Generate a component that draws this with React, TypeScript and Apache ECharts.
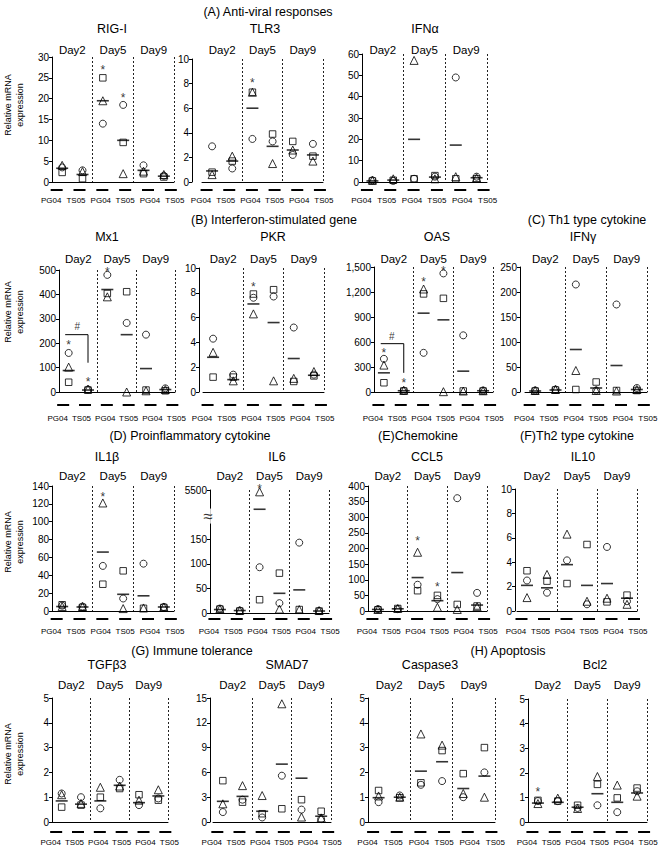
import React, { useEffect, useRef } from 'react';
import * as echarts from 'echarts';

const FONT = '"Liberation Sans", Arial, Helvetica, sans-serif';

const xCategories = ['PG04', 'TS05', 'PG04', 'TS05', 'PG04', 'TS05'];
const dayLabels = ['Day2', 'Day5', 'Day9'];
const yAxisTitle = 'Relative mRNA\nexpression';

const sectionTitles = [
  '(A) Anti-viral responses',
  '(B) Interferon-stimulated gene',
  '(C) Th1 type cytokine',
  '(D) Proinflammatory cytokine',
  '(E)Chemokine',
  '(F)Th2 type cytokine',
  '(G) Immune tolerance',
  '(H) Apoptosis',
];

// ---------- data (order: Day2 PG04, Day2 TS05, Day5 PG04, Day5 TS05, Day9 PG04, Day9 TS05)
const rigICircle = [3.5, 2.8, 14, 18.5, 4, 1.5];
const rigISquare = [2.3, 0.8, 25, 9.5, 2, 1.2];
const rigITriangle = [4, 2.5, 19.5, 2, 2.6, 1.8];
const rigIMean = [3.3, 1.8, 19.5, 10, 2.8, 1.4];
const rigIStars = [[2, 27.5], [3, 21]];

const tlr3Circle = [2.9, 1.1, 3.5, 3.3, 2.2, 3.1];
const tlr3Square = [0.8, 1.7, 7.3, 3.9, 3.3, 2.1];
const tlr3Triangle = [0.6, 2.1, 7.3, 1.5, 2.6, 1.7];
const tlr3Mean = [0.9, 1.7, 6.0, 2.9, 2.6, 2.2];
const tlr3Stars = [[2, 8.3]];

const ifnaCircle = [0.8, 0.5, 1.5, 2.5, 49, 2.5];
const ifnaSquare = [0.5, 0.8, 1.5, 3, 1.5, 1.5];
const ifnaTriangle = [0.8, 1.5, 57, 1.5, 2.5, 2];
const ifnaMean = [0.5, 0.9, 20, 2.3, 17.3, 2];

const mx1Circle = [160, 10, 480, 283, 235, 15];
const mx1Square = [40, 8, 404, 411, 8, 5];
const mx1Triangle = [102, 12, 390, 0, 5, 10];
const mx1Mean = [88, 8, 420, 235, 96, 10];
const mx1Stars = [[0, 204], [1, 54], [2, 505]];
const mx1Bracket = [[0.16, 235], [0.75, 235], [0.75, 120]];
const mx1Hash = [[0.47, 270]];

const pkrCircle = [4.3, 1.4, 7.6, 7.7, 5.2, 1.4];
const pkrSquare = [1.2, 1.2, 7.9, 8.25, 0.85, 1.3];
const pkrTriangle = [3.2, 0.9, 6.3, 0.9, 1.1, 1.65];
const pkrMean = [2.8, 1.0, 7.1, 5.6, 2.7, 1.35];
const pkrStars = [[2, 8.7]];

const oasCircle = [398, 15, 470, 1423, 680, 18];
const oasSquare = [111, 12, 1177, 1124, 12, 12];
const oasTriangle = [323, 20, 1236, 4, 12, 15];
const oasMean = [230, 15, 946, 866, 250, 15];
const oasStars = [[0, 500], [1, 150], [2, 1353], [3, 1485]];
const oasBracket = [[0.17, 580], [0.75, 580], [0.75, 230]];
const oasHash = [[0.45, 668]];

const ifngCircle = [3, 5, 215, 3, 175, 8];
const ifngSquare = [2, 4, 5, 20, 3, 3];
const ifngTriangle = [3, 5, 43, 3, 2, 5];
const ifngMean = [2, 4, 85, 8, 53, 5];

const il1bCircle = [6, 5, 50.5, 14, 53, 4.5];
const il1bSquare = [7, 4, 30, 45, 3, 4];
const il1bTriangle = [5, 5, 121, 2.7, 3.4, 4.5];
const il1bMean = [5, 4.5, 66, 18.7, 17, 4.5];
const il1bStars = [[2, 131]];

const il6Circle = [9, 5, 93, 20, 143, 4];
const il6Square = [8, 4, 27, 81, 7, 4];
const il6Triangle = [8, 5, 5100, 8, 7, 5];
const il6Mean = [7, 5, 1350, 40, 47, 4];
const il6Stars = [[2, 6300]];
const il6BreakLow = 200;
const il6TopLabel = 5500;

const ccl5Circle = [6, 6, 84, 38, 361, 58];
const ccl5Square = [4, 8, 65, 50, 21, 16];
const ccl5Triangle = [5, 8, 188, 12, 5, 14];
const ccl5Mean = [5, 7, 107, 33, 123, 19];
const ccl5Stars = [[2, 234], [3, 86]];

const il10Circle = [2.5, 1.5, 4.15, 0.55, 5.25, 0.8];
const il10Square = [3.3, 2.45, 2.25, 5.45, 0.75, 1.3];
const il10Triangle = [1.1, 3.0, 6.3, 0.8, 1.05, 0.55];
const il10Mean = [2.1, 1.9, 3.8, 2.1, 2.25, 1.05];

const tgfb3Circle = [1.15, 1.0, 0.55, 1.7, 0.68, 0.95];
const tgfb3Square = [0.6, 0.68, 1.0, 1.35, 1.1, 0.88];
const tgfb3Triangle = [1.1, 0.75, 1.4, 1.45, 0.88, 1.3];
const tgfb3Mean = [0.85, 0.72, 0.85, 1.48, 0.78, 1.05];

const smad7Circle = [1.2, 2.7, 0.55, 5.6, 1.5, 0.35];
const smad7Square = [5.0, 2.4, 1.0, 1.6, 2.7, 1.3];
const smad7Triangle = [2.2, 4.4, 3.2, 14.3, 0.6, 0.5];
const smad7Mean = [2.5, 3.1, 1.3, 7.0, 5.3, 0.7];

const casp3Circle = [0.8, 1.07, 1.5, 1.65, 1.0, 2.0];
const casp3Square = [1.27, 0.98, 1.58, 2.88, 1.95, 3.0];
const casp3Triangle = [1.05, 1.0, 3.55, 3.1, 1.15, 1.0];
const casp3Mean = [0.98, 1.0, 2.05, 2.43, 1.35, 1.85];

const bcl2Circle = [0.85, 0.85, 0.57, 0.68, 0.4, 1.25];
const bcl2Square = [0.88, 0.85, 0.68, 1.53, 0.98, 1.38];
const bcl2Triangle = [0.75, 0.97, 0.55, 1.85, 1.5, 1.05];
const bcl2Mean = [0.77, 0.8, 0.6, 1.15, 0.8, 1.18];
const bcl2Stars = [[0, 1.33]];

// ---------- layout (pixels)
const rowLayout = [
  { titleY: 29, dayY: 50, dashY: 190, labelY: 200, nameY: 105 },
  { titleY: 237, dayY: 259, dashY: 405, labelY: 418, nameY: 312 },
  { titleY: 457, dayY: 476, dashY: 619, labelY: 631, nameY: 542 },
  { titleY: 665, dayY: 685, dashY: 832, labelY: 842, nameY: 754 },
];
const sectionPos = [
  [268, 12], [274, 220], [587, 220], [190, 436], [418, 436], [577, 436], [192, 651], [508, 651],
];
// horizontal spreading of the under-axis dashes and names (px)
const dashShift = [-5.5, -3, -0.5, 2, 4.5, 7];
const nameShift = [-11, -6.5, -2, 2, 6.5, 11];

type Panel = {
  name: string; row: number; titleX: number;
  left: number; width: number; top: number; bottom: number; yOffset: number;
  yMax: number; yInterval: number;
  circle: number[]; square: number[]; triangle: number[]; mean: number[];
  stars?: number[][]; bracket?: number[][]; hash?: number[][]; broken?: boolean;
};

const panels: Panel[] = [
  { name: 'RIG-I', row: 0, titleX: 112, left: 52, width: 122, top: 57, bottom: 182, yOffset: 0, yMax: 30, yInterval: 5,
    circle: rigICircle, square: rigISquare, triangle: rigITriangle, mean: rigIMean, stars: rigIStars },
  { name: 'TLR3', row: 0, titleX: 265, left: 202, width: 121, top: 59, bottom: 182, yOffset: 10, yMax: 10, yInterval: 2,
    circle: tlr3Circle, square: tlr3Square, triangle: tlr3Triangle, mean: tlr3Mean, stars: tlr3Stars },
  { name: 'IFNα', row: 0, titleX: 425, left: 362, width: 125, top: 54, bottom: 182, yOffset: 0, yMax: 60, yInterval: 10,
    circle: ifnaCircle, square: ifnaSquare, triangle: ifnaTriangle, mean: ifnaMean },
  { name: 'Mx1', row: 1, titleX: 107, left: 59, width: 116, top: 270, bottom: 392, yOffset: 0, yMax: 500, yInterval: 100,
    circle: mx1Circle, square: mx1Square, triangle: mx1Triangle, mean: mx1Mean, stars: mx1Stars, bracket: mx1Bracket, hash: mx1Hash },
  { name: 'PKR', row: 1, titleX: 273, left: 203, width: 121, top: 268, bottom: 392, yOffset: 4, yMax: 10, yInterval: 2,
    circle: pkrCircle, square: pkrSquare, triangle: pkrTriangle, mean: pkrMean, stars: pkrStars },
  { name: 'OAS', row: 1, titleX: 437, left: 374, width: 119, top: 267, bottom: 392, yOffset: 0, yMax: 1500, yInterval: 300,
    circle: oasCircle, square: oasSquare, triangle: oasTriangle, mean: oasMean, stars: oasStars, bracket: oasBracket, hash: oasHash },
  { name: 'IFNγ', row: 1, titleX: 583, left: 525, width: 122, top: 267, bottom: 392, yOffset: 5, yMax: 250, yInterval: 50,
    circle: ifngCircle, square: ifngSquare, triangle: ifngTriangle, mean: ifngMean },
  { name: 'IL1β', row: 2, titleX: 107, left: 52, width: 122, top: 486, bottom: 611, yOffset: 0, yMax: 140, yInterval: 20,
    circle: il1bCircle, square: il1bSquare, triangle: il1bTriangle, mean: il1bMean, stars: il1bStars },
  { name: 'IL6', row: 2, titleX: 277, left: 210, width: 119, top: 490, bottom: 613, yOffset: 0, yMax: 250, yInterval: 50,
    circle: il6Circle, square: il6Square, triangle: il6Triangle, mean: il6Mean, stars: il6Stars, broken: true },
  { name: 'CCL5', row: 2, titleX: 427, left: 368, width: 119, top: 486, bottom: 611, yOffset: 0, yMax: 400, yInterval: 50,
    circle: ccl5Circle, square: ccl5Square, triangle: ccl5Triangle, mean: ccl5Mean, stars: ccl5Stars },
  { name: 'IL10', row: 2, titleX: 583, left: 517, width: 120, top: 489, bottom: 611, yOffset: 2, yMax: 10, yInterval: 2,
    circle: il10Circle, square: il10Square, triangle: il10Triangle, mean: il10Mean },
  { name: 'TGFβ3', row: 3, titleX: 107, left: 52, width: 116, top: 698, bottom: 822, yOffset: 0, yMax: 5, yInterval: 1,
    circle: tgfb3Circle, square: tgfb3Square, triangle: tgfb3Triangle, mean: tgfb3Mean },
  { name: 'SMAD7', row: 3, titleX: 287, left: 213, width: 118, top: 698, bottom: 822, yOffset: 3, yMax: 15, yInterval: 3,
    circle: smad7Circle, square: smad7Square, triangle: smad7Triangle, mean: smad7Mean },
  { name: 'Caspase3', row: 3, titleX: 430, left: 368, width: 127, top: 698, bottom: 822, yOffset: 0, yMax: 5, yInterval: 1,
    circle: casp3Circle, square: casp3Square, triangle: casp3Triangle, mean: casp3Mean },
  { name: 'Bcl2', row: 3, titleX: 595, left: 528, width: 119, top: 699, bottom: 822, yOffset: 0, yMax: 5, yInterval: 1,
    circle: bcl2Circle, square: bcl2Square, triangle: bcl2Triangle, mean: bcl2Mean, stars: bcl2Stars },
];

// axis break for IL6: values above il6BreakLow are compressed so il6TopLabel sits at 250
const il6Display = (v: number) =>
  v <= il6BreakLow ? v : il6BreakLow + ((v - il6BreakLow) * 50) / (il6TopLabel - il6BreakLow);

function buildRich() {
  const dashRich: any = {};
  const nameRich: any = {};
  dashShift.forEach((s, k) => {
    dashRich['d' + k] = { width: 12, height: 2, lineHeight: 2, backgroundColor: '#000' };
    dashRich['s' + k] = { width: Math.abs(2 * s), height: 2, lineHeight: 2 };
  });
  nameShift.forEach((s, k) => {
    nameRich['n' + k] = {
      fontSize: 8, color: '#000', fontFamily: FONT,
      padding: s < 0 ? [0, -2 * s, 0, 0] : [0, 0, 0, 2 * s],
    };
  });
  return { dashRich, nameRich };
}

function buildOption() {
  const grids: any[] = [];
  const xAxes: any[] = [];
  const yAxes: any[] = [];
  const series: any[] = [];
  const elements: any[] = [];
  const { dashRich, nameRich } = buildRich();

  panels.forEach((p, i) => {
    const rl = rowLayout[p.row];
    const disp = p.broken ? il6Display : (v: number) => v;
    grids.push({ left: p.left, top: p.top, width: p.width, height: p.bottom - p.top, containLabel: false, outerBoundsMode: 'none' });
    xAxes.push({
      type: 'category', gridIndex: i, data: xCategories, position: 'bottom',
      axisLine: { show: true, onZero: true, lineStyle: { color: '#000', width: 1 } },
      axisTick: { show: false },
      axisLabel: {
        interval: 0, margin: rl.dashY - p.bottom - 1,
        formatter: (_v: string, k: number) => (dashShift[k] < 0 ? `{d${k}|}{s${k}|}` : `{s${k}|}{d${k}|}`),
        rich: dashRich,
      },
      splitLine: { show: false },
    });
    xAxes.push({
      type: 'category', gridIndex: i, data: xCategories, position: 'bottom',
      axisLine: { show: false }, axisTick: { show: false }, splitLine: { show: false },
      axisLabel: {
        interval: 0, margin: rl.labelY - p.bottom - 4, fontSize: 8, color: '#000', fontFamily: FONT,
        formatter: (v: string, k: number) => `{n${k}|${v}}`,
        rich: nameRich,
      },
    });
    xAxes.push({
      type: 'value', gridIndex: i, min: 0, max: 3, interval: 1, position: 'top',
      axisLine: { show: false }, axisTick: { show: false }, axisLabel: { show: false },
      splitLine: { show: true, lineStyle: { color: ['rgba(0,0,0,0)', '#222', '#222', '#222'], type: [2, 2], width: 1 } },
    });
    xAxes.push({
      type: 'category', gridIndex: i, data: dayLabels, position: 'top',
      axisLine: { show: false }, axisTick: { show: false }, splitLine: { show: false },
      axisLabel: { interval: 0, margin: p.top - rl.dayY - 5.5, fontSize: 11.5, lineHeight: 11, color: '#000', fontFamily: FONT },
    });
    yAxes.push({
      type: 'value', gridIndex: i, min: 0, max: p.yMax, interval: p.yInterval, offset: p.yOffset,
      axisLine: { show: true, onZero: false, lineStyle: { color: '#000', width: 1 } },
      axisTick: { show: true, length: 3, lineStyle: { color: '#000' } },
      splitLine: { show: false },
      axisLabel: {
        fontSize: 10, color: '#000', fontFamily: FONT, margin: 3,
        formatter: (v: number) => {
          if (p.broken) {
            if (v === 250) return String(il6TopLabel);
            if (v === 200) return '';
          }
          return v >= 1000 ? v.toLocaleString('en-US') : String(v);
        },
      },
    });

    const cat = 4 * i;
    const val = 4 * i + 2;
    const pts = (arr: number[]) => arr.map((v, k) => [k, disp(v)]);
    const hollow = { color: 'rgba(0,0,0,0)', borderColor: '#000', borderWidth: 1 };
    const common = { xAxisIndex: cat, yAxisIndex: i, silent: true, clip: false, z: 3 };
    series.push({ ...common, type: 'scatter', name: p.name + ' circle', symbol: 'circle', symbolSize: 7, itemStyle: hollow, data: pts(p.circle) });
    series.push({ ...common, type: 'scatter', name: p.name + ' square', symbol: 'rect', symbolSize: 6.5, itemStyle: hollow, data: pts(p.square) });
    series.push({ ...common, type: 'scatter', name: p.name + ' triangle', symbol: 'triangle', symbolSize: 8, itemStyle: hollow, data: pts(p.triangle) });
    series.push({ ...common, type: 'scatter', name: p.name + ' mean', symbol: 'rect', symbolSize: [12, 1.6], itemStyle: { color: '#000' }, data: pts(p.mean) });
    if (p.stars) {
      series.push({
        ...common, type: 'scatter', name: p.name + ' sig', symbol: 'circle', symbolSize: 1,
        itemStyle: { color: 'rgba(0,0,0,0)' },
        label: { show: true, position: 'inside', formatter: '*', fontSize: 12, lineHeight: 6, color: '#000', fontFamily: FONT, offset: [0, 3] },
        data: p.stars.map(([k, v]) => [k, disp(v)]),
      });
    }
    if (p.bracket) {
      series.push({
        type: 'line', xAxisIndex: val, yAxisIndex: i, silent: true, symbol: 'none', clip: false,
        lineStyle: { color: '#000', width: 1 }, data: p.bracket,
      });
    }
    if (p.hash) {
      series.push({
        type: 'scatter', xAxisIndex: val, yAxisIndex: i, silent: true, clip: false, symbol: 'circle', symbolSize: 1,
        itemStyle: { color: 'rgba(0,0,0,0)' },
        label: { show: true, position: 'inside', formatter: '#', fontSize: 10, color: '#000', fontFamily: FONT },
        data: p.hash,
      });
    }
    if (p.broken) {
      series.push({
        type: 'scatter', xAxisIndex: val, yAxisIndex: i, silent: true, clip: false, z: 6,
        symbol: 'rect', symbolSize: [8, 15], itemStyle: { color: '#fff' },
        label: { show: true, position: 'inside', formatter: '≈', fontSize: 17, color: '#000', fontFamily: FONT, offset: [-2, 0] },
        data: [[0, 197]],
      });
    }

    elements.push({
      type: 'text', x: p.titleX, y: rl.titleY,
      style: { text: p.name, fill: '#000', fontSize: 12.5, fontFamily: FONT, align: 'center', verticalAlign: 'middle' },
    });
  });

  sectionTitles.forEach((t, k) => {
    elements.push({
      type: 'text', x: sectionPos[k][0], y: sectionPos[k][1],
      style: { text: t, fill: '#000', fontSize: 12.5, fontFamily: FONT, align: 'center', verticalAlign: 'middle' },
    });
  });
  rowLayout.forEach((rl) => {
    elements.push({
      type: 'text', x: 14, y: rl.nameY, rotation: Math.PI / 2,
      style: { text: yAxisTitle, fill: '#000', fontSize: 9, lineHeight: 11.5, fontFamily: FONT, align: 'center', verticalAlign: 'middle' },
    });
  });

  return {
    animation: false,
    backgroundColor: '#fff',
    grid: grids,
    xAxis: xAxes,
    yAxis: yAxes,
    series,
    graphic: { elements },
  };
}

export default function App() {
  const ref = useRef<HTMLDivElement>(null);
  useEffect(() => {
    document.body.style.margin = '0';
    if (!ref.current) return;
    const chart = echarts.init(ref.current, undefined, { renderer: 'svg' });
    chart.setOption(buildOption() as any);
    return () => chart.dispose();
  }, []);
  return <div ref={ref} style={{ width: 661, height: 849 }} />;
}
